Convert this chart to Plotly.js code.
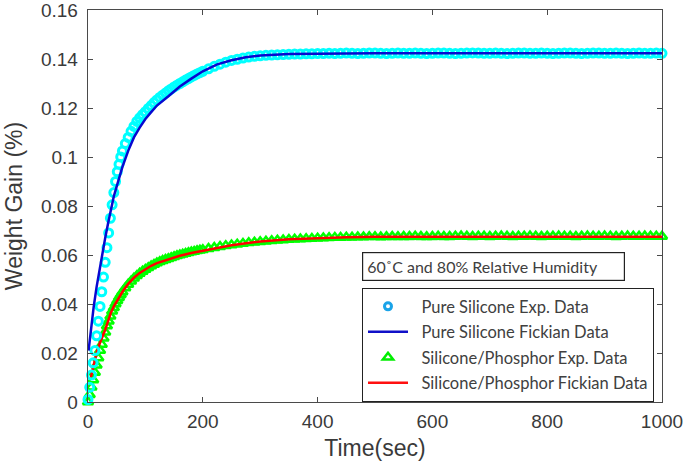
<!DOCTYPE html>
<html>
<head>
<meta charset="utf-8">
<script src="https://cdn.plot.ly/plotly-3.0.1.min.js"></script>
<style>html,body{margin:0;padding:0;background:#fff;}#chart{width:685px;height:475px;}</style>
</head>
<body>
<div id="chart"></div>
<script>
// Experimental sampling times (sec)
var expTime = [0,3,6,9,12,15,18,21,24,27,30,33,36,39,42,45,48,51,54,57,60,
  65,70,75,80,85,90,95,100,105,110,115,120,125,130,135,140,145,150,155,160,165,170,175,180,185,190,195,200,
  210,220,230,240,250,260,270,280,290,300,310,320,330,340,350,360,370,380,390,400,
  410,420,430,440,450,460,470,480,490,500,510,520,530,540,550,560,570,580,590,600,
  610,620,630,640,650,660,670,680,690,700,710,720,730,740,750,760,770,780,790,800,
  810,820,830,840,850,860,870,880,890,900,910,920,930,940,950,960,970,980,990,1000];

// Pure silicone experimental weight gain (%)
var pureExp = [0.001,0.006,0.011,0.016,0.021,0.027,0.033,0.039,0.045,0.051,0.057,0.063,0.069,0.075,0.0805,0.0855,0.090,0.094,0.097,0.100,0.1025,
  0.1055,0.108,0.1105,0.1125,0.1145,0.1160,0.1173,0.1185,0.1198,0.1210,0.1222,0.1233,0.1243,0.1252,0.1261,0.1270,0.1278,0.1286,0.1293,0.1300,0.1307,0.1314,0.1320,0.1327,0.1333,0.1339,0.1344,0.1350,
  0.1360,0.1370,0.1379,0.1387,0.1394,0.1399,0.1404,0.1408,0.1411,0.1413,0.1415,0.1416,0.1417,0.1418,0.1419,0.1420,0.1420,0.1421,0.1421,0.1422,
  0.1422,0.1423,0.1422,0.1423,0.1424,0.1423,0.1422,0.1423,0.1424,0.1424,0.1423,0.1422,0.1423,0.1424,0.1423,0.1423,0.1424,0.1423,0.1422,0.1423,
  0.1424,0.1424,0.1423,0.1422,0.1423,0.1424,0.1425,0.1424,0.1423,0.1423,0.1424,0.1423,0.1422,0.1423,0.1424,0.1424,0.1423,0.1423,0.1424,0.1423,
  0.1422,0.1423,0.1424,0.1424,0.1423,0.1422,0.1423,0.1424,0.1424,0.1423,0.1423,0.1424,0.1423,0.1422,0.1423,0.1424,0.1423,0.1423,0.1424,0.1423];

// Silicone/Phosphor experimental weight gain (%)
var phosExp = [0.000,0.003,0.006,0.009,0.012,0.015,0.018,0.021,0.0235,0.026,0.0285,0.031,0.033,0.035,0.037,0.0385,0.040,0.0413,0.0426,0.0438,0.0449,
  0.0465,0.0480,0.0493,0.0505,0.0515,0.0525,0.0533,0.0541,0.0548,0.0555,0.0561,0.0567,0.0572,0.0577,0.0581,0.0585,0.0589,0.0593,0.0597,0.0600,0.0603,0.0606,0.0609,0.0612,0.0614,0.0617,0.0619,0.0621,
  0.0626,0.0630,0.0634,0.0638,0.0641,0.0644,0.0647,0.0650,0.0652,0.0654,0.0656,0.0658,0.0660,0.0661,0.0663,0.0664,0.0665,0.0666,0.0667,0.0668,
  0.0669,0.0670,0.0671,0.0671,0.0672,0.0672,0.0673,0.0673,0.0674,0.0674,0.0673,0.0674,0.0675,0.0674,0.0675,0.0675,0.0676,0.0675,0.0674,0.0675,
  0.0676,0.0675,0.0675,0.0676,0.0677,0.0676,0.0675,0.0676,0.0676,0.0675,0.0676,0.0677,0.0676,0.0675,0.0676,0.0676,0.0677,0.0676,0.0675,0.0676,
  0.0676,0.0677,0.0676,0.0676,0.0675,0.0676,0.0677,0.0676,0.0676,0.0677,0.0676,0.0675,0.0676,0.0677,0.0676,0.0676,0.0677,0.0676,0.0676,0.0676];

// Fickian model times (sec)
var fitTime = [1,5,10,15,20,25,30,35,40,45,50,55,60,70,80,90,100,110,120,140,160,180,200,225,250,275,300,350,400,450,500,600,700,800,900,1000];
// Pure silicone Fickian fit (%)
var pureFit = [0.021,0.030,0.039,0.047,0.054,0.061,0.067,0.073,0.079,0.084,0.088,0.092,0.096,0.1025,0.108,0.112,0.1155,0.1183,0.121,0.1248,0.1288,0.1320,0.1350,0.1378,0.1395,0.1407,0.1414,0.1420,0.1422,0.1423,0.1423,0.1423,0.1423,0.1423,0.1423,0.1423];
// Silicone/Phosphor Fickian fit (%)
var phosFit = [null,0.010,0.0158,0.0202,0.0237,0.0265,0.0295,0.0330,0.0365,0.0390,0.0412,0.0432,0.0450,0.0482,0.0507,0.0527,0.0543,0.0556,0.0567,0.0583,0.0597,0.0608,0.0618,0.0630,0.0640,0.0648,0.0655,0.0664,0.0669,0.0672,0.0674,0.0675,0.0675,0.0675,0.0675,0.0675];

var seriesNames = ['Pure Silicone Exp. Data','Pure Silicone Fickian Data','Silicone/Phosphor Exp. Data','Silicone/Phosphor Fickian Data'];
var yTickVals = [0,0.02,0.04,0.06,0.08,0.1,0.12,0.14,0.16];
var yTickText = ['0','0.02','0.04','0.06','0.08','0.1','0.12','0.14','0.16'];
var xTickVals = [0,200,400,600,800,1000];
var xTickText = ['0','200','400','600','800','1000'];
var boxLabel = '60\u02DAC and 80% Relative Humidity';

var pad = '\u00A0\u00A0';
var traces = [
  {x: expTime, y: phosExp, mode:'markers', type:'scatter', showlegend:false, cliponaxis:false,
   marker:{symbol:'triangle-up-open', size:9, color:'#00ff00', line:{width:2.5, color:'#00ff00'}}},
  {x: fitTime, y: phosFit, mode:'lines', type:'scatter', showlegend:false,
   line:{color:'#ff0000', width:2.5}},
  {x: expTime, y: pureExp, mode:'markers', type:'scatter', showlegend:false, cliponaxis:false,
   marker:{symbol:'circle-open', size:8, color:'#00ffff', line:{width:3, color:'#00ffff'}}},
  {x: fitTime, y: pureFit, mode:'lines', type:'scatter', showlegend:false,
   line:{color:'#0808d0', width:2.5}},
  // legend entries
  {x:[null], y:[null], mode:'markers', type:'scatter', name:pad+seriesNames[0], legendgroup:'a',
   marker:{symbol:'circle-open', size:7, color:'#1aa3e8', line:{width:3, color:'#1aa3e8'}}},
  {x:[null], y:[null], mode:'lines', type:'scatter', name:pad+seriesNames[1], legendgroup:'b',
   line:{color:'#1010c8', width:2.5}},
  {x:[null], y:[null], mode:'markers', type:'scatter', name:pad+seriesNames[2], legendgroup:'c',
   marker:{symbol:'triangle-up-open', size:9, color:'#00ee00', line:{width:2.5, color:'#00ee00'}}},
  {x:[null], y:[null], mode:'lines', type:'scatter', name:pad+seriesNames[3], legendgroup:'d',
   line:{color:'#ff1010', width:2.5}}
];

var axisColor = '#4a4a4a';
var tickFont = {size:19, color:'#3a3a3a', family:'Liberation Sans, Arial, sans-serif'};
var layout = {
  width:685, height:475,
  margin:{l:88, r:23, t:10, b:73},
  paper_bgcolor:'#ffffff', plot_bgcolor:'#ffffff',
  showlegend:true,
  font:{family:'Liberation Sans, Arial, sans-serif', color:'#333333'},
  xaxis:{range:[0,1000], tickvals:xTickVals, ticktext:xTickText, ticks:'inside', ticklen:5, tickwidth:1,
    tickcolor:axisColor, showline:true, linecolor:axisColor, linewidth:1.3, mirror:'ticks', showgrid:false, zeroline:false,
    tickfont:tickFont, ticklabelstandoff:2, ticklabeloverflow:'allow',
    title:{text:'Time(sec)', font:{size:23, color:'#3a3a3a', family:'Liberation Sans, Arial, sans-serif'}, standoff:8}},
  yaxis:{range:[0,0.16], tickvals:yTickVals, ticktext:yTickText, ticks:'inside', ticklen:5, tickwidth:1,
    tickcolor:axisColor, showline:true, linecolor:axisColor, linewidth:1.3, mirror:'ticks', showgrid:false, zeroline:false,
    tickfont:tickFont, ticklabelstandoff:5, ticklabeloverflow:'allow',
    title:{text:'Weight Gain (%)', font:{size:23, color:'#3a3a3a', family:'Liberation Sans, Arial, sans-serif'}, standoff:12}},
  legend:{x:0.477, xanchor:'left', y:0.291, yanchor:'top', bgcolor:'#ffffff', bordercolor:'#222222', borderwidth:1.2,
    font:{family:'Lato, sans-serif', size:16.5, color:'#404040'}, traceorder:'grouped', tracegroupgap:1, itemwidth:40},
  annotations:[{xref:'paper', yref:'paper', x:0.4768, y:0.3834, xanchor:'left', yanchor:'top', text:boxLabel,
    showarrow:false, align:'left', width:253, borderpad:4, bordercolor:'#222222', borderwidth:1.2, bgcolor:'#ffffff',
    font:{family:'Lato, sans-serif', size:16, color:'#404040'}}]
};

Plotly.newPlot('chart', traces, layout, {displayModeBar:false, staticPlot:true});
</script>
</body>
</html>
